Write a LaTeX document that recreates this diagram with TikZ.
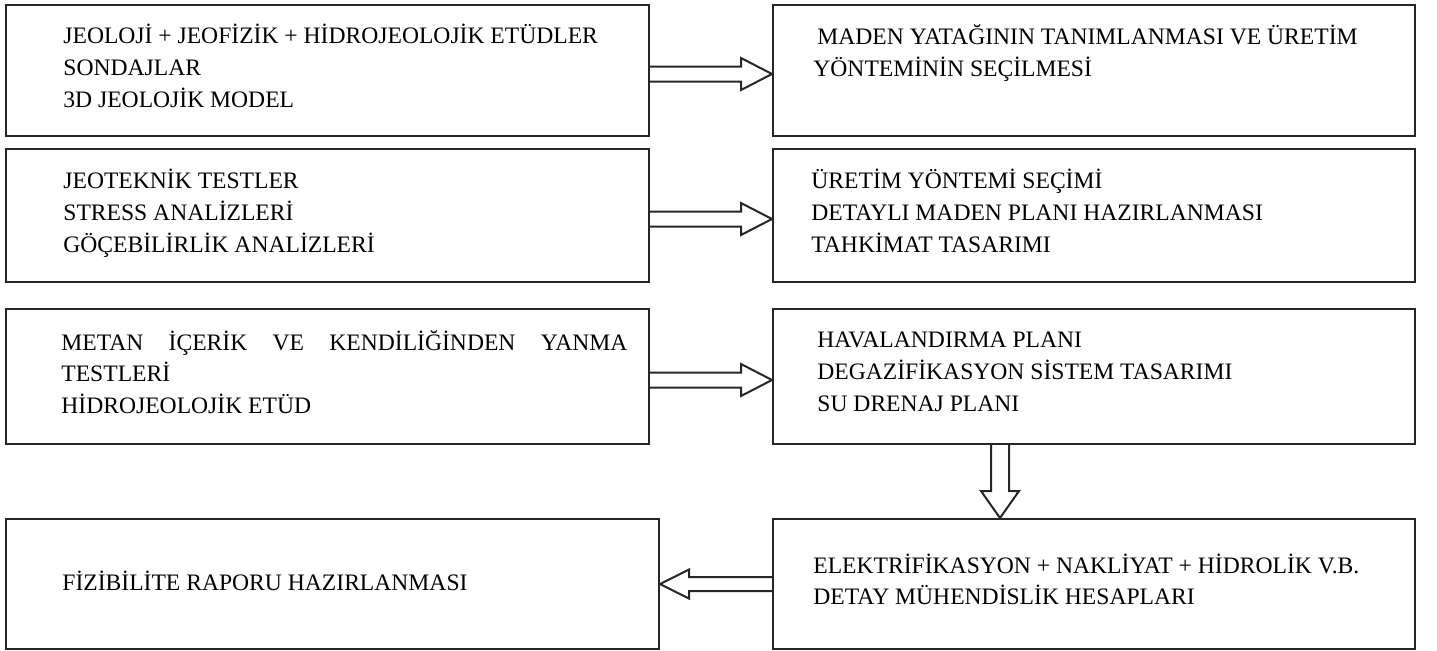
\documentclass[tikz,border=0pt]{standalone}
\usepackage{fontspec}
\setmainfont{Liberation Serif}
\usetikzlibrary{calc,positioning}

\begin{document}
\begin{tikzpicture}[x=0.5pt, y=-0.5pt,
	box/.style = {draw=black!85, line width=1pt, anchor=north west, inner sep=0pt, minimum width=321.5pt},
	txt/.style = {inner sep=0pt, align=left, font=\fontsize{11.8pt}{15.8pt}\selectfont,
		execute at begin node=\strut, execute at end node=\strut},
	fatarrow/.style n args = {3}{draw=black!85, line width=1pt, to path={
		($(\tikztotarget)!#3!(\tikztostart)$) coordinate (fa-b)
		($(\tikztostart)!#1!90:(\tikztotarget)$)
		-- ($(fa-b)!#1!-90:(\tikztostart)$) -- ($(fa-b)!#2!-90:(\tikztostart)$)
		-- (\tikztotarget)
		-- ($(fa-b)!#2!90:(\tikztostart)$) -- ($(fa-b)!#1!90:(\tikztostart)$)
		-- ($(\tikztostart)!#1!-90:(\tikztotarget)$)}}]
	\useasboundingbox (0,0) rectangle (1437,650);
	% left column
	\node[box, minimum height=65.5pt] (a) at (5,4) {};
	\node[box, minimum height=66.5pt] (b) at (5,148) {};
	\node[box, minimum height=67.5pt] (c) at (5,308) {};
	\node[box, minimum height=65pt, minimum width=326.5pt] (d) at (5,518) {};
	% right column
	\node[box, minimum height=65.5pt, minimum width=321pt] (e) at (772,4) {};
	\node[box, minimum height=66.5pt, minimum width=321pt] (f) at (772,148) {};
	\node[box, minimum height=67.5pt, minimum width=321pt] (g) at (772,308) {};
	\node[box, minimum height=65pt, minimum width=321pt] (h) at (772,518) {};

	\node[txt, right=29pt of a.west] (ta) {JEOLOJİ + JEOFİZİK + HİDROJEOLOJİK ETÜDLER\\SONDAJLAR\\3D JEOLOJİK MODEL};
	\node[txt, right=29pt of b.west] (tb) {JEOTEKNİK TESTLER\\STRESS ANALİZLERİ\\GÖÇEBİLİRLİK ANALİZLERİ};
	\node[txt, right=28pt of c.west] (tc) {\makebox[283pt][s]{METAN İÇERİK VE KENDİLİĞİNDEN YANMA}\\TESTLERİ\\HİDROJEOLOJİK ETÜD};
	\node[txt, right=28.5pt of d.west] (td) {FİZİBİLİTE RAPORU HAZIRLANMASI};
	\node[txt, right=20.5pt of e.west, yshift=7.75pt] (te) {\hspace{2pt}MADEN YATAĞININ TANIMLANMASI VE ÜRETİM\\YÖNTEMİNİN SEÇİLMESİ};
	\node[txt, right=19.5pt of f.west] (tf) {ÜRETİM YÖNTEMİ SEÇİMİ\\DETAYLI MADEN PLANI HAZIRLANMASI\\TAHKİMAT TASARIMI};
	\node[txt, right=22.5pt of g.west] (tg) {HAVALANDIRMA PLANI\\DEGAZİFİKASYON SİSTEM TASARIMI\\SU DRENAJ PLANI};
	\node[txt, right=20.5pt of h.west] (th) {ELEKTRİFİKASYON + NAKLİYAT + HİDROLİK V.B.\\DETAY MÜHENDİSLİK HESAPLARI};

	% block arrows between the boxes
	\draw[fatarrow={3.75pt}{8pt}{15.5pt}] ([yshift=-1.75pt]a.east) to ([yshift=-1.75pt]e.west);
	\draw[fatarrow={3.75pt}{8pt}{15.5pt}] ([yshift=-1.75pt]b.east) to ([yshift=-1.75pt]f.west);
	\draw[fatarrow={3.75pt}{8pt}{15.5pt}] ([yshift=-1.75pt]c.east) to ([yshift=-1.75pt]g.west);
	\coordinate (drop) at ($(g.south west)+(228,0)$);
	\coordinate (land) at (drop |- h.north);
	\draw[fatarrow={4.5pt}{9.5pt}{13.5pt}] (drop) to (land);
	\draw[fatarrow={3.5pt}{7.25pt}{14.5pt}] (h.west) to (d.east);
\end{tikzpicture}
\end{document}
